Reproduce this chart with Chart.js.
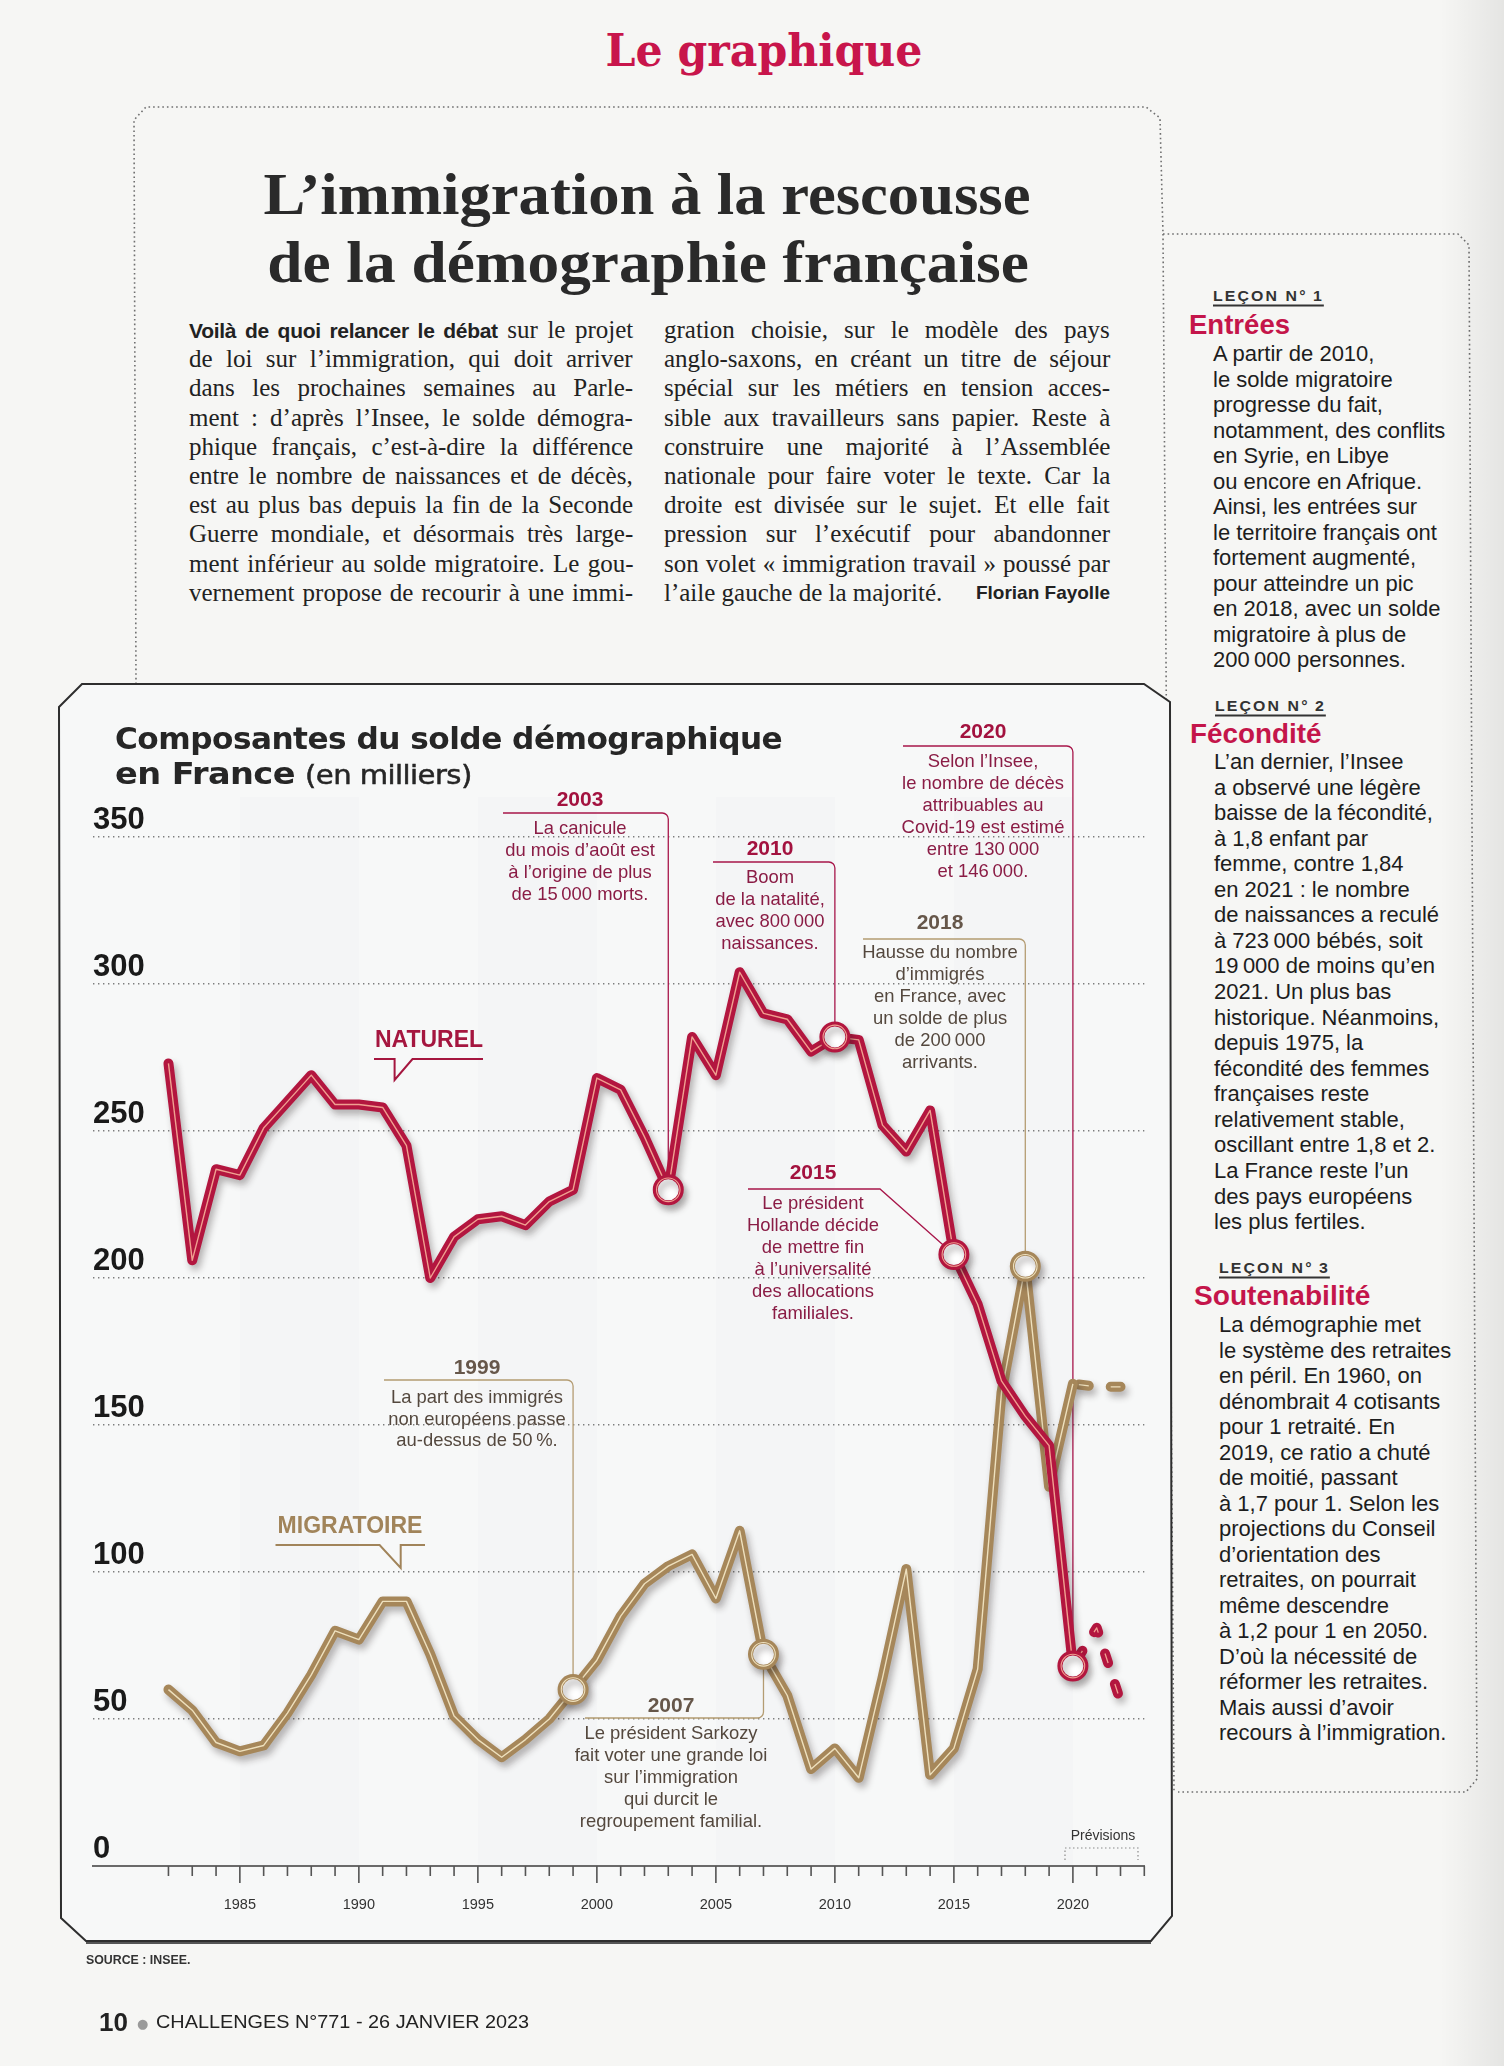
<!DOCTYPE html>
<html lang="fr"><head><meta charset="utf-8">
<script src="https://cdn.jsdelivr.net/npm/chart.js@4.4.1/dist/chart.umd.min.js"></script>
<style>
html,body{margin:0;padding:0;}
body{width:1504px;height:2066px;position:relative;background:#f6f6f4;overflow:hidden;font-family:"Liberation Sans",Arial,sans-serif;color:#222;}
.t{position:absolute;white-space:nowrap;line-height:1;z-index:3;}
#deco{position:absolute;left:0;top:0;z-index:1;}
#cv{position:absolute;left:40px;top:660px;z-index:2;}
#gutter{position:absolute;left:1440px;top:0;width:64px;height:2066px;background:linear-gradient(to right,rgba(0,0,0,0),rgba(0,0,0,0.07));z-index:4;}
</style></head>
<body>
<svg id="deco" width="1504" height="2066">
  <g fill="none" stroke="#6f6f6f" stroke-width="1.6" stroke-dasharray="1.6 3">
    <path d="M136,684 L134,120 L146,107 L1146,107 L1160,118 L1163,234"/>
    <path d="M1163,234 L1458,234 L1469,245 L1477,1779 L1466,1792 L1178,1792"/>
    <path d="M1163,234 L1174,1792"/>
  </g>
  <polygon points="59,707 82,684 1144,684 1170,702 1172,1916 1151,1941 86,1941 61,1918" fill="#f7f8f8" stroke="#2e2e2e" stroke-width="2"/>
  <path d="M86,1943 L1151,1943" stroke="#555" stroke-width="2" fill="none"/>
</svg>
<canvas id="cv" width="1150" height="1300"></canvas>
<div id="gutter"></div>
<script>
// ---------------- DATA ----------------
const years = [1982,1983,1984,1985,1986,1987,1988,1989,1990,1991,1992,1993,1994,1995,1996,1997,1998,1999,2000,2001,2002,2003,2004,2005,2006,2007,2008,2009,2010,2011,2012,2013,2014,2015,2016,2017,2018,2019,2020];
const naturel = [273,206,237,235,251,260,269,259,259,258,245,200,214,220,221,218,226,230,268,264,248,230,282,269,304,290,288,277,282,281,252,243,257,208,191,165,153,143,68];
const migratoire = [60,53,42,39,41,52,65,80,77,90,90,72,51,43,37,43,50,60,70,85,96,102,106,91,114,72,58,33,40,30,64,101,31,40,67,161,204,129,164];
const prevYears = [2020,2021,2022];
const naturelPrev = [68,81,56];
const migratoirePrev = [164,163,163];
const natMarkYears = [2003,2010,2015,2020];
const migMarkYears = [1999,2007,2018];
const yTicks = [0,50,100,150,200,250,300,350];
const xTickYears = [1982,1983,1984,1985,1986,1987,1988,1989,1990,1991,1992,1993,1994,1995,1996,1997,1998,1999,2000,2001,2002,2003,2004,2005,2006,2007,2008,2009,2010,2011,2012,2013,2014,2015,2016,2017,2018,2019,2020,2021,2022,2023];
const xLabelYears = [1985,1990,1995,2000,2005,2010,2015,2020];
const bandRanges = [[1985,1990],[1995,2000],[2005,2010],[2015,2020]];

// ---------------- HTML TEXT ----------------
function T(html,x,y,o){o=o||{};const e=document.createElement('div');e.className='t';e.innerHTML=html;
  if(o.s) e.style.cssText+=o.s; e.style.left=x+'px'; e.style.top=y+'px';
  e.dataset.a=o.a||'l'; if(o.w) e.dataset.w=o.w; if(o.j) e.dataset.j=o.j; document.body.appendChild(e); return e;}

T('Le graphique',764,50,{a:'c',w:317,s:'font:bold 44px "DejaVu Serif",serif;color:#c8154b;'});
T('L’immigration à la rescousse',647,194,{a:'c',w:767,s:'font:bold 60px "Liberation Serif",serif;color:#2a2a2a;'});
T('de la démographie française',648,262,{a:'c',w:762,s:'font:bold 60px "Liberation Serif",serif;color:#2a2a2a;'});

const col1 = [
 '<b style="font:bold 21px \'Liberation Sans\',sans-serif;letter-spacing:-0.3px;">Voilà de quoi relancer le débat</b> sur le projet',
 'de loi sur l’immigration, qui doit arriver',
 'dans les prochaines semaines au Parle-',
 'ment : d’après l’Insee, le solde démogra-',
 'phique français, c’est-à-dire la différence',
 'entre le nombre de naissances et de décès,',
 'est au plus bas depuis la fin de la Seconde',
 'Guerre mondiale, et désormais très large-',
 'ment inférieur au solde migratoire. Le gou-',
 'vernement propose de recourir à une immi-'];
const col2 = [
 'gration choisie, sur le modèle des pays',
 'anglo-saxons, en créant un titre de séjour',
 'spécial sur les métiers en tension acces-',
 'sible aux travailleurs sans papier. Reste à',
 'construire une majorité à l’Assemblée',
 'nationale pour faire voter le texte. Car la',
 'droite est divisée sur le sujet. Et elle fait',
 'pression sur l’exécutif pour abandonner',
 'son volet « immigration travail » poussé par'];
const bodyS='font:25px "Liberation Serif",serif;color:#222;';
col1.forEach((s,i)=>T(s,189,330+29.2*i,{j:444,s:bodyS}));
col2.forEach((s,i)=>T(s,664,330+29.2*i,{j:446,s:bodyS}));
T('l’aile gauche de la majorité.',664,330+29.2*9,{s:bodyS});
T('Florian Fayolle',1110,330+29.2*9,{a:'r',s:'font:bold 19px "Liberation Sans",sans-serif;color:#222;'});

const headS='font:bold 15px "Liberation Sans",sans-serif;letter-spacing:2px;color:#333;text-decoration:underline;text-decoration-thickness:2px;text-underline-offset:4px;';
const titS='font:bold 27px "Liberation Sans",sans-serif;color:#c4154a;';
const sbS='font:22px "Liberation Sans",sans-serif;color:#1d1d1d;';
const lecon1=['A partir de 2010,','le solde migratoire','progresse du fait,','notamment, des conflits','en Syrie, en Libye','ou encore en Afrique.','Ainsi, les entrées sur','le territoire français ont','fortement augmenté,','pour atteindre un pic','en 2018, avec un solde','migratoire à plus de','200&#8201;000 personnes.'];
const lecon2=['L’an dernier, l’Insee','a observé une légère','baisse de la fécondité,','à 1,8 enfant par','femme, contre 1,84','en 2021 : le nombre','de naissances a reculé','à 723&#8201;000 bébés, soit','19&#8201;000 de moins qu’en','2021. Un plus bas','historique. Néanmoins,','depuis 1975, la','fécondité des femmes','françaises reste','relativement stable,','oscillant entre 1,8 et 2.','La France reste l’un','des pays européens','les plus fertiles.'];
const lecon3=['La démographie met','le système des retraites','en péril. En 1960, on','dénombrait 4 cotisants','pour 1 retraité. En','2019, ce ratio a chuté','de moitié, passant','à 1,7 pour 1. Selon les','projections du Conseil','d’orientation des','retraites, on pourrait','même descendre','à 1,2 pour 1 en 2050.','D’où la nécessité de','réformer les retraites.','Mais aussi d’avoir','recours à l’immigration.'];
T('LEÇON N°&#8201;1',1213,295,{w:111,s:headS});
T('Entrées',1189,325,{w:101,s:titS});
lecon1.forEach((s,i)=>T(s,1213,354+25.5*i,{s:sbS}));
T('LEÇON N°&#8201;2',1215,705,{w:111,s:headS});
T('Fécondité',1190,734,{w:132,s:titS});
lecon2.forEach((s,i)=>T(s,1214,762+25.56*i,{s:sbS}));
T('LEÇON N°&#8201;3',1219,1267,{w:111,s:headS});
T('Soutenabilité',1194,1296,{w:177,s:titS});
lecon3.forEach((s,i)=>T(s,1219,1325+25.5*i,{s:sbS}));

T('Composantes du solde démographique',115,738,{w:667,s:'font:bold 30px "DejaVu Sans",sans-serif;color:#262626;letter-spacing:-0.5px;'});
T('<span style="font-weight:bold">en France</span> <span style="font-size:26px;-webkit-text-stroke:0.5px #262626;">(en milliers)</span>',115,773,{w:357,s:'font:30px "DejaVu Sans",sans-serif;color:#262626;letter-spacing:-0.5px;'});
T('SOURCE : INSEE.',86,1960,{w:104,s:'font:bold 12px "Liberation Sans",sans-serif;color:#333;'});
T('10',99,2022,{s:'font:bold 26px "Liberation Sans",sans-serif;color:#222;'});
T('●',137,2023,{s:'font:13px "DejaVu Sans",sans-serif;color:#9a9a9a;'});
T('CHALLENGES N°771 - 26 JANVIER 2023',156,2022,{w:373,s:'font:19px "Liberation Sans",sans-serif;color:#222;'});

document.querySelectorAll('.t').forEach(e=>{
  const a=e.dataset.a; let s=1; const nat=e.offsetWidth;
  if(e.dataset.j){const W=+e.dataset.j;const n=(e.textContent.match(/ /g)||[]).length;
    if(nat<=W&&n>0){e.style.wordSpacing=((W-nat)/n)+'px';} else if(nat>W){s=W/nat;}}
  if(e.dataset.w){s=(+e.dataset.w)/nat;}
  const tr=a==='c'?'translate(-50%,-50%)':a==='r'?'translate(-100%,-50%)':'translateY(-50%)';
  e.style.transformOrigin=a==='c'?'50% 50%':a==='r'?'100% 50%':'0 50%';
  e.style.transform=tr+' scaleX('+s+')';
});

// ---------------- CHART ----------------
const OX=40, OY=660;
const RED='#b3163f', RED_IN='#f0a090', GOLD='#a6875a', GOLD_IN='#eee0bd';
const NAT_TXT='#8a1c45', NAT_LAB='#a3123f', NAT_LINE='#a8164a';
const MIG_TXT='#54483e', MIG_LAB='#66574a', MIG_LINE='#b49c72';
const pts=(xs,ys)=>xs.map((x,i)=>({x:x,y:ys[i]}));
const pick=(list,xs,ys)=>list.map(y0=>({x:y0,y:ys[xs.indexOf(y0)]}));

const annots=[
 {year:2003,s:'nat',lx:580,ly:800,hy:813,hx0:503,tx:580,ty:829,st:22,lines:['La canicule','du mois d’août est','à l’origine de plus','de 15\u2009000 morts.']},
 {year:2010,s:'nat',lx:770,ly:849,hy:862,hx0:713,tx:770,ty:878,st:21.9,lines:['Boom','de la natalité,','avec 800\u2009000','naissances.']},
 {year:2020,s:'nat',lx:983,ly:732,hy:746,hx0:903,tx:983,ty:762,st:21.9,lines:['Selon l’Insee,','le nombre de décès','attribuables au','Covid-19 est estimé','entre 130\u2009000','et 146\u2009000.']},
 {year:2015,s:'nat',lx:813,ly:1173,hy:1189,hx0:748,hx1:880,diag:true,tx:813,ty:1204,st:21.9,lines:['Le président','Hollande décide','de mettre fin','à l’universalité','des allocations','familiales.']},
 {year:2018,s:'mig',lx:940,ly:923,hy:939,hx0:863,tx:940,ty:953,st:21.9,lines:['Hausse du nombre','d’immigrés','en France, avec','un solde de plus','de 200\u2009000','arrivants.']},
 {year:1999,s:'mig',lx:477,ly:1368,hy:1380,hx0:384,tx:477,ty:1398,st:21.5,lines:['La part des immigrés','non européens passe','au-dessus de 50\u2009%.']},
 {year:2007,s:'mig',lx:671,ly:1706,hy:1718,hx0:585,tx:671,ty:1734,st:22,lines:['Le président Sarkozy','fait voter une grande loi','sur l’immigration','qui durcit le','regroupement familial.']}
];

function ctext(ctx,s,x,y,font,color,align,sx){ctx.save();ctx.translate(x-OX,y-OY);ctx.scale(sx||1,1);ctx.font=font;ctx.fillStyle=color;ctx.textAlign=align||'center';ctx.textBaseline='middle';ctx.fillText(s,0,0);ctx.restore();}

const decoPlugin={
 id:'deco',
 beforeDraw(chart){
  const ctx=chart.ctx,xs=chart.scales.x,ca=chart.chartArea;
  ctx.save();ctx.fillStyle='rgba(200,205,210,0.05)';
  bandRanges.forEach(r=>{const a=xs.getPixelForValue(r[0]),b=xs.getPixelForValue(r[1]);ctx.fillRect(a,ca.top-40,b-a,ca.bottom-ca.top+40);});
  ctx.restore();
 },
 beforeDatasetsDraw(chart){
  const ctx=chart.ctx,xs=chart.scales.x,ys=chart.scales.y;
  annots.forEach(a=>{
   const nat=a.s==='nat';const arr=nat?naturel:migratoire;
   const px=xs.getPixelForValue(a.year),py=ys.getPixelForValue(arr[years.indexOf(a.year)]);
   ctx.save();ctx.strokeStyle=nat?NAT_LINE:MIG_LINE;ctx.lineWidth=1.3;ctx.beginPath();
   const hy=a.hy-OY,hx0=a.hx0-OX;
   if(a.diag){ctx.moveTo(hx0,hy);ctx.lineTo(a.hx1-OX,hy);ctx.lineTo(px,py);}
   else{ctx.moveTo(hx0,hy);ctx.arcTo(px,hy,px,py,6);ctx.lineTo(px,py);}
   ctx.stroke();ctx.restore();
   ctext(ctx,String(a.year),a.lx,a.ly,'bold 21px "Liberation Sans"',nat?NAT_LAB:MIG_LAB,'center',1);
   a.lines.forEach((s,i)=>ctext(ctx,s,a.tx,a.ty+i*a.st,'19px "Liberation Sans"',nat?NAT_TXT:MIG_TXT,'center',0.97));
  });
  ctext(ctx,'NATUREL',429,1041,'bold 23px "Liberation Sans"','#a5163f','center',1);
  ctext(ctx,'MIGRATOIRE',350,1527,'bold 23px "Liberation Sans"','#a1845a','center',1);
  ctx.save();ctx.lineWidth=2;ctx.lineJoin='miter';
  ctx.strokeStyle='#a5163f';ctx.beginPath();
  [[374,1059],[394.6,1059],[394.6,1080],[412.5,1059],[483,1059]].forEach((p,i)=>i?ctx.lineTo(p[0]-OX,p[1]-OY):ctx.moveTo(p[0]-OX,p[1]-OY));ctx.stroke();
  ctx.strokeStyle='#a1845a';ctx.beginPath();
  [[275.5,1545],[379.6,1545],[400.7,1568],[400.7,1545],[425,1545]].forEach((p,i)=>i?ctx.lineTo(p[0]-OX,p[1]-OY):ctx.moveTo(p[0]-OX,p[1]-OY));ctx.stroke();
  ctx.restore();
  ctext(ctx,'Prévisions',1103,1836,'14px "Liberation Sans"','#333','center',1);
  ctx.save();ctx.strokeStyle='#8a8a8a';ctx.lineWidth=1.2;ctx.setLineDash([1.5,2.5]);ctx.beginPath();
  ctx.moveTo(1065-OX,1860-OY);ctx.lineTo(1065-OX,1848-OY);ctx.lineTo(1138-OX,1848-OY);ctx.lineTo(1138-OX,1860-OY);ctx.stroke();ctx.restore();
 },
 afterDraw(chart){
  const ctx=chart.ctx,xs=chart.scales.x,yb=chart.chartArea.bottom;
  ctx.save();ctx.strokeStyle='#555';ctx.lineWidth=1.6;ctx.beginPath();
  xTickYears.forEach(yr=>{const x=xs.getPixelForValue(yr);const m=xLabelYears.includes(yr);ctx.moveTo(x,yb);ctx.lineTo(x,yb+(m?17:10));});
  ctx.stroke();ctx.restore();
 }
};
const shadowPlugin={
 id:'shadow',
 beforeDatasetDraw(chart,args){const ds=chart.data.datasets[args.index];if(ds.shadow){const c=chart.ctx;c.save();c.shadowColor='rgba(40,30,30,0.33)';c.shadowBlur=7;c.shadowOffsetX=3;c.shadowOffsetY=5;}},
 afterDatasetDraw(chart,args){const ds=chart.data.datasets[args.index];if(ds.shadow){chart.ctx.restore();}}
};

const lineBase={showLine:true,pointRadius:0,borderJoinStyle:'round',tension:0};
new Chart(document.getElementById('cv'),{
 type:'scatter',
 data:{datasets:[
  {...lineBase,label:'Migratoire prévision',data:pts(prevYears,migratoirePrev),borderColor:GOLD,borderWidth:10,borderCapStyle:'round',borderDash:[10,22],borderDashOffset:-6,shadow:true,order:12},
  {...lineBase,label:'Migratoire prévision (reflet)',data:pts(prevYears,migratoirePrev),borderColor:GOLD_IN,borderWidth:1.3,borderDash:[10,22],borderDashOffset:-6,order:11},
  {...lineBase,label:'Migratoire',data:pts(years,migratoire),borderColor:GOLD,borderWidth:10,borderCapStyle:'round',shadow:true,order:10},
  {...lineBase,label:'Migratoire (reflet)',data:pts(years,migratoire),borderColor:GOLD_IN,borderWidth:1.4,order:9},
  {...lineBase,label:'Naturel prévision',data:pts(prevYears,naturelPrev),borderColor:RED,borderWidth:10,borderCapStyle:'round',borderDash:[10,22],borderDashOffset:-8,shadow:true,order:8},
  {...lineBase,label:'Naturel prévision (reflet)',data:pts(prevYears,naturelPrev),borderColor:RED_IN,borderWidth:1.3,borderDash:[10,22],borderDashOffset:-8,order:7},
  {...lineBase,label:'Naturel',data:pts(years,naturel),borderColor:RED,borderWidth:10,borderCapStyle:'round',shadow:true,order:6},
  {...lineBase,label:'Naturel (reflet)',data:pts(years,naturel),borderColor:RED_IN,borderWidth:1.4,order:5},
  {label:'Repères migratoire',data:pick(migMarkYears,years,migratoire),showLine:false,pointRadius:13,pointBorderWidth:5,pointBorderColor:GOLD,pointBackgroundColor:'#fff',shadow:true,order:4},
  {label:'Repères migratoire (reflet)',data:pick(migMarkYears,years,migratoire),showLine:false,pointRadius:11.8,pointBorderWidth:1.1,pointBorderColor:GOLD_IN,pointBackgroundColor:'rgba(0,0,0,0)',order:3},
  {label:'Repères naturel',data:pick(natMarkYears,years,naturel),showLine:false,pointRadius:13,pointBorderWidth:5,pointBorderColor:RED,pointBackgroundColor:'#fff',shadow:true,order:2},
  {label:'Repères naturel (reflet)',data:pick(natMarkYears,years,naturel),showLine:false,pointRadius:11.8,pointBorderWidth:1.1,pointBorderColor:RED_IN,pointBackgroundColor:'rgba(0,0,0,0)',order:1}
 ]},
 options:{
  responsive:false,animation:false,events:[],
  layout:{padding:{left:53,right:45.7,top:177,bottom:44}},
  plugins:{legend:{display:false},tooltip:{enabled:false}},
  scales:{
   x:{type:'linear',min:1978.83,max:2023,
    afterBuildTicks:s=>{s.ticks=xTickYears.map(v=>({value:v}));},
    afterFit:s=>{s.height=50;s.paddingLeft=0;s.paddingRight=0;},
    grid:{display:true,drawOnChartArea:false,drawTicks:false},
    border:{display:true,color:'#6a6a6a',width:2},
    ticks:{autoSkip:false,maxRotation:0,minRotation:0,padding:30,color:'#333',font:{family:'"Liberation Sans"',size:14.5},
      callback:v=>xLabelYears.includes(v)?String(v):''}},
   y:{type:'linear',min:0,max:350,
    afterBuildTicks:s=>{s.ticks=yTicks.map(v=>({value:v}));},
    afterFit:s=>{s.width=0;},
    grid:{drawTicks:false,lineWidth:1.4,color:c=>(c.tick&&c.tick.value===0)?'rgba(0,0,0,0)':'#7d7d7d'},
    border:{display:false,dash:[1.4,3.6]},
    ticks:{mirror:true,padding:0,labelOffset:-17,color:'#1a1a1a',font:{family:'"Liberation Sans Narrow","Liberation Sans",Arial',size:31,weight:'bold'},callback:v=>String(v)}}
  }
 },
 plugins:[decoPlugin,shadowPlugin]
});
</script>
</body></html>
